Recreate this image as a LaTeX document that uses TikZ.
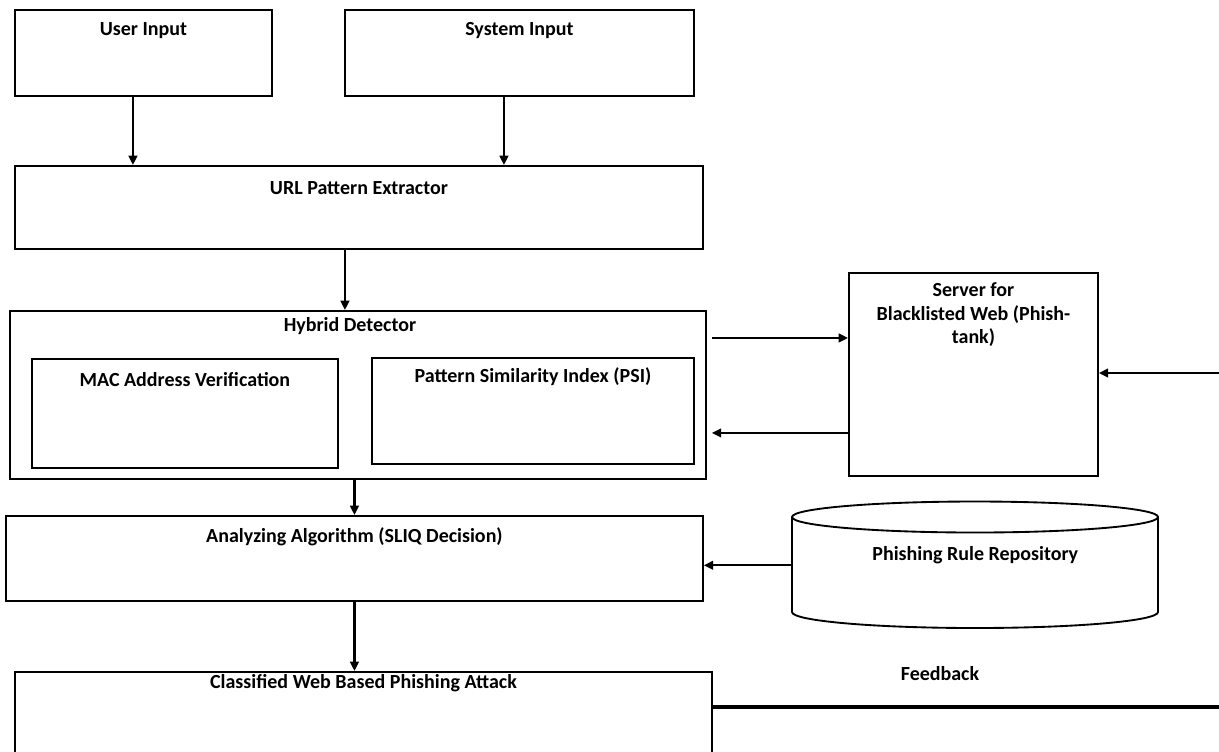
\documentclass[tikz,border=0pt]{standalone}
\usepackage{fontspec}
\setmainfont{Carlito}
\usetikzlibrary{arrows.meta}

\begin{document}
\begin{tikzpicture}[
    x=0.75pt, y=-0.75pt,
    every node/.style={font=\fontsize{15}{17.6}\selectfont\bfseries},
    box/.style={
        draw,
        line width=1.4pt,
        anchor=north west,
        inner sep=0pt,
    },
    lbl/.style={anchor=center, align=center, yshift=-#1*0.75pt},
    arr/.style={-{Triangle[length=7pt,width=6.5pt]}, line width=1.6pt},
    cyl/.style={line width=1.4pt},
    fbline/.style={line width=2.5pt},
]

% One pixel of the layout
\def\pxu{0.75pt}

\useasboundingbox (0,0) rectangle (1219,751);

% --- Inputs ---
\node[box, minimum width=257*\pxu, minimum height=86*\pxu,
    label={[lbl=22]north:User Input}] (user) at (14,9) {};
\node[box, minimum width=349*\pxu, minimum height=86*\pxu,
    label={[lbl=22]north:System Input}] (sys) at (344,9) {};

% --- URL Pattern Extractor ---
\node[box, minimum width=688*\pxu, minimum height=83*\pxu,
    label={[lbl=23]north:URL Pattern Extractor}] (url) at (14,165) {};

% --- Hybrid Detector ---
\node[box, minimum width=696*\pxu, minimum height=168*\pxu,
    label={[lbl=16, xshift=-8*\pxu]north:Hybrid Detector}] (hyb) at (9,310) {};
\node[box, minimum width=306*\pxu, minimum height=109*\pxu,
    label={[lbl=22]north:MAC Address Verification}] (mac) at (31,358) {};
\node[box, minimum width=322*\pxu, minimum height=106*\pxu,
    label={[lbl=20]north:Pattern Similarity Index (PSI)}] (psi) at (371,357) {};

% --- Blacklist server ---
\node[box, minimum width=249*\pxu, minimum height=203*\pxu,
    label={[lbl=43]north:{Server for\\Blacklisted Web (Phish-\\tank)}}] (srv) at (848,272) {};

% --- Analyzing Algorithm ---
\node[box, minimum width=697*\pxu, minimum height=85*\pxu,
    label={[lbl=22]north:Analyzing Algorithm (SLIQ Decision)}] (ana) at (5,515) {};

% --- Rule repository (cylinder) ---
\node[anchor=north west, inner sep=0pt, minimum width=366*\pxu, minimum height=126*\pxu,
    label={[lbl=53]north:Phishing Rule Repository}] (repo) at (792,502) {};
\draw[cyl] (792,517) -- (792,612)
    arc[start angle=180, end angle=360, x radius=183*\pxu, y radius=16*\pxu]
    -- (1158,517)
    arc[start angle=0, end angle=360, x radius=183*\pxu, y radius=15.5*\pxu];

% --- Classified output ---
\node[box, minimum width=697*\pxu, minimum height=100*\pxu,
    label={[lbl=12]north:Classified Web Based Phishing Attack}] (cls) at (14,671) {};
\node (fb) at (940,674) {Feedback};

% --- Connectors ---
\coordinate (ua) at ([xshift=-10.5*\pxu]user.south);
\coordinate (sa) at ([xshift=-15.5*\pxu]sys.south);
\coordinate (xa) at ([xshift=-14*\pxu]url.south);
\coordinate (hybO) at ([shift={(5,-57)}]hyb.east);
\coordinate (hybI) at ([shift={(5,38)}]hyb.east);
\coordinate (rin) at (1219,373);
\coordinate (rout) at (1219,707);

\draw[arr] (ua) -- (ua |- url.north);
\draw[arr] (sa) -- (sa |- url.north);
\draw[arr] (xa) -- (xa |- hyb.north);
\draw[arr] (hybO) -- (hybO -| srv.west);
\draw[arr] (hybI -| srv.west) -- (hybI);
\draw[arr] (rin) -- (rin -| srv.east);
\draw[arr] (hyb.south -| ana.south) -- (ana.north);
\draw[arr] (repo.west) -- (repo.west -| ana.east);
\draw[arr] (ana.south) -- (ana.south |- cls.north);
\draw[fbline] (rout -| cls.east) -- (rout);

\end{tikzpicture}
\end{document}
